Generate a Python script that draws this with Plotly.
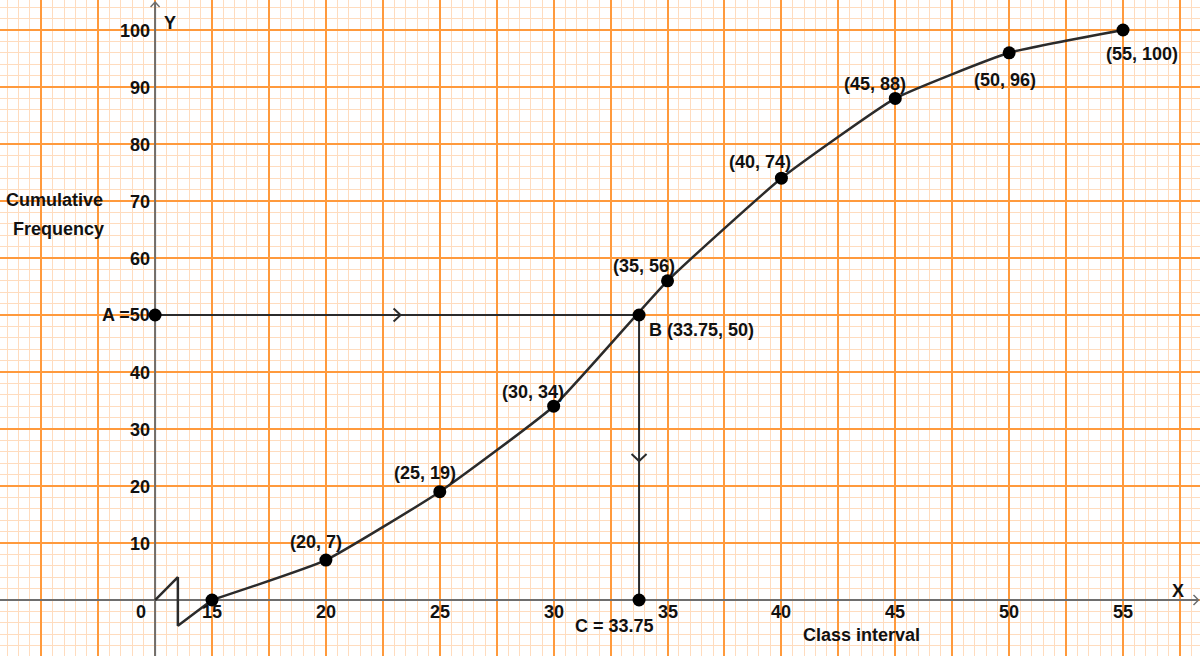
import plotly.graph_objects as go

# ---------------- data ----------------
upper_limits = [15, 20, 25, 30, 35, 40, 45, 50, 55]
cum_freq = [0, 7, 19, 34, 56, 74, 88, 96, 100]
x_tick_labels = [15, 20, 25, 30, 35, 40, 45, 50, 55]
y_tick_labels = [10, 20, 30, 40, 60, 70, 80, 90, 100]
origin_x = 12.5          # broken axis: y-axis sits here
median_x = 33.75
median_y = 50
break_x = [12.5, 13.5, 13.5, 15]
break_y = [0, 4, -4.5, 0]

# ---------------- view ----------------
W, H = 1200, 656
X0, X1 = 5.69, 58.38
Y0, Y1 = -9.82, 105.26
SX = W / (X1 - X0)
SY = H / (Y1 - Y0)

def to_px(x, y):
    return (x - X0) * SX, H - (y - Y0) * SY

def to_data(px, py):
    return X0 + px / SX, Y0 + (H - py) / SY

def chevron(cx, cy, direction, length, half):
    """chevron centred at data point (cx,cy), sizes in pixels"""
    px, py = to_px(cx, cy)
    if direction == "right":
        pts = [(px - length / 2, py - half), (px + length / 2, py), (px - length / 2, py + half)]
    elif direction == "down":
        pts = [(px - half, py - length / 2), (px, py + length / 2), (px + half, py - length / 2)]
    elif direction == "up":
        pts = [(px - half, py + length / 2), (px, py - length / 2), (px + half, py + length / 2)]
    xs, ys = zip(*[to_data(a, b) for a, b in pts])
    return list(xs), list(ys)

INK = "#2b2b2b"
AXIS = "#6e6e6e"
MAJOR = "#FF9A3C"
MINOR = "#FFDCBE"
FONT = "Liberation Sans, Arial, sans-serif"

fig = go.Figure()

# axes lines (drawn as traces so they sit above the grid)
ax_left, _ = to_data(0, 0)
ax_right, _ = to_data(1198, 0)
_, ay_bottom = to_data(0, H)
_, ay_top = to_data(0, 2)
fig.add_trace(go.Scatter(x=[ax_left, ax_right], y=[0, 0], mode="lines",
                         line=dict(color=AXIS, width=2), hoverinfo="skip"))
fig.add_trace(go.Scatter(x=[origin_x, origin_x], y=[ay_bottom, ay_top], mode="lines",
                         line=dict(color=AXIS, width=2), hoverinfo="skip"))
# axis arrowheads
axr_x, _ = to_data(1196, 0)
cx, cy = chevron(axr_x, 0, "right", 5, 5)
fig.add_trace(go.Scatter(x=cx, y=cy, mode="lines", line=dict(color=AXIS, width=1.5), hoverinfo="skip"))
_, ayt = to_data(0, 4.5)
cx, cy = chevron(origin_x, ayt, "up", 5, 4.5)
fig.add_trace(go.Scatter(x=cx, y=cy, mode="lines", line=dict(color=AXIS, width=1.5), hoverinfo="skip"))

# axis break zigzag
fig.add_trace(go.Scatter(x=break_x, y=break_y, mode="lines",
                         line=dict(color=INK, width=2.5), hoverinfo="skip"))

# ogive
fig.add_trace(go.Scatter(x=upper_limits, y=cum_freq, mode="lines+markers",
                         line=dict(color=INK, width=2.5, shape="spline", smoothing=0.4),
                         marker=dict(color="black", size=13), hoverinfo="skip"))

# median construction lines
fig.add_trace(go.Scatter(x=[origin_x, median_x], y=[median_y, median_y], mode="lines",
                         line=dict(color=INK, width=2), hoverinfo="skip"))
fig.add_trace(go.Scatter(x=[median_x, median_x], y=[median_y, 0], mode="lines",
                         line=dict(color=INK, width=2), hoverinfo="skip"))
cx, cy = chevron((origin_x + median_x) / 2, median_y, "right", 7, 6.5)
fig.add_trace(go.Scatter(x=cx, y=cy, mode="lines", line=dict(color=INK, width=2), hoverinfo="skip"))
cx, cy = chevron(median_x, median_y / 2, "down", 7, 7.5)
fig.add_trace(go.Scatter(x=cx, y=cy, mode="lines", line=dict(color=INK, width=2), hoverinfo="skip"))
fig.add_trace(go.Scatter(x=[origin_x, median_x, median_x], y=[median_y, median_y, 0], mode="markers",
                         marker=dict(color="black", size=13), hoverinfo="skip"))

ann = []
def label(text, x, y, xs=0, ys=0, xanchor="center", size=18):
    ann.append(dict(x=x, y=y, xref="x", yref="y", text=f"<b>{text}</b>", showarrow=False,
                    xshift=xs, yshift=ys, xanchor=xanchor, yanchor="middle",
                    font=dict(family=FONT, size=size, color="#111")))

# point labels
label_offsets = [None, (-10, 18), (-15, 19), (-21, 14), (-24, 15), (-21, 16), (-20, 14), (-4, -27), (19, -24)]
for xv, yv, off in zip(upper_limits, cum_freq, label_offsets):
    if off is None:
        continue
    label(f"({xv}, {yv})", xv, yv, off[0], off[1])

# tick labels
for xv in x_tick_labels:
    label(str(xv), xv, 0, 0, -12)
for yv in y_tick_labels:
    label(str(yv), origin_x, yv, -3, -1, xanchor="right")
label("A =50", origin_x, median_y, -3, 0, xanchor="right")
label("0", origin_x, 0, -14, -12)
label(f"B ({median_x}, {median_y})", median_x, median_y, 8, -15, xanchor="left")
label(f"C = {median_x}", median_x, 0, -25, -26)
label("Y", origin_x, 100, 15, 7)
label("X", 57.4, 0, 0, 9)
label("Cumulative", 8.1, 70.2, 0, 0)
label("Frequency", 8.24, 65.1, 0, 0)
label("Class interval", 43.5, 0, 0, -35)

axis_common = dict(showticklabels=False, zeroline=False, showline=False, ticks="",
                   showgrid=True, gridcolor=MAJOR, gridwidth=2, fixedrange=True)
fig.update_layout(
    width=W, height=H, margin=dict(l=0, r=0, t=0, b=0),
    paper_bgcolor="white", plot_bgcolor="white", showlegend=False,
    xaxis=dict(range=[X0, X1], dtick=2.5, tick0=origin_x,
               minor=dict(dtick=0.5, tick0=origin_x, showgrid=True, gridcolor=MINOR, gridwidth=1),
               **axis_common),
    yaxis=dict(range=[Y0, Y1], dtick=10, tick0=0,
               minor=dict(dtick=2, tick0=0, showgrid=True, gridcolor=MINOR, gridwidth=1),
               **axis_common),
    annotations=ann,
)

fig.write_html("out.html", config={"displayModeBar": False},
               post_script="document.body.style.margin='0';document.body.style.overflow='hidden';")
